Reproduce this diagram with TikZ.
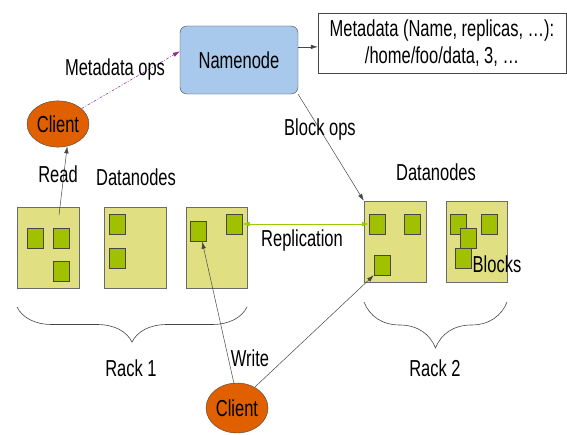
\documentclass[tikz,border=0pt]{standalone}
\usepackage{fontspec}
\setmainfont{Liberation Sans}
\usetikzlibrary{positioning,shapes.geometric,arrows.meta,decorations.pathreplacing}

\definecolor{nnblue}{RGB}{168,200,236}
\definecolor{clorange}{RGB}{224,96,0}
\definecolor{dnfill}{RGB}{224,224,130}
\definecolor{blkgreen}{RGB}{160,192,0}
\definecolor{repgreen}{RGB}{153,204,0}
\definecolor{opspurple}{RGB}{150,40,150}
\definecolor{linegray}{RGB}{70,70,70}

\begin{document}
\begin{tikzpicture}[x=1pt,y=-1pt,
  lbl/.style={font=\fontsize{16.5}{19.3}\selectfont, yscale=1.4, inner sep=1pt},
  namebox/.style={lbl, draw=linegray, fill=nnblue, rounded corners=7, minimum width=118, minimum height=48.6},
  metabox/.style={lbl, draw=linegray, fill=white, align=center, minimum width=248, minimum height=42.9},
  client/.style={lbl, ellipse, draw=linegray, fill=clorange, inner sep=0, minimum width=62},
  dnode/.style={draw=linegray!80, fill=dnfill, minimum width=62, minimum height=81, inner sep=0},
  blk/.style={draw=linegray, fill=blkgreen, minimum width=16, minimum height=20, inner sep=0},
  arr/.style={draw=linegray, line width=0.5pt, -{Latex[length=7pt,width=4.5pt]}},
  rackbrace/.style={draw=linegray, line width=0.6pt, decorate}]
\path[use as bounding box] (0,0) rectangle (567,435);

%Shape: Namenode and metadata table
\draw (239,60) node [namebox] (nn) {Namenode};
\draw (442,43) node [metabox] (meta) {Metadata (Name, replicas, …):\\/home/foo/data, 3, …};

%Shape: Clients
\draw (58,124) node [client, minimum height=33] (cl1) {Client};
\draw (237,408) node [client, minimum height=35.7] (cl2) {Client};

%Shape: Rack 1 datanodes
\draw (48,247.5) node [dnode] (dn1) {};
\draw (135,247.5) node [dnode] (dn2) {};
\draw (216.5,247.5) node [dnode, minimum width=61] (dn3) {};
\draw (35,238) node [blk] (b11) {};
\draw (61,238) node [blk] (b12) {};
\draw (61,271.5) node [blk] (b13) {};
\draw (117,224) node [blk] (b21) {};
\draw (117,258) node [blk] (b22) {};
\draw (198.5,231.5) node [blk] (b31) {};
\draw (234.5,224) node [blk] (b32) {};

%Shape: Rack 2 datanodes
\draw (395,241.5) node [dnode] (dn4) {};
\draw (476.5,241.5) node [dnode, minimum width=61] (dn5) {};
\draw (377,224) node [blk] (b41) {};
\draw (412.5,224) node [blk] (b42) {};
\draw (382,265) node [blk] (b43) {};
\draw (458.5,224) node [blk] (b51) {};
\draw (489,224) node [blk] (b52) {};
\draw (468.5,238) node [blk] (b53) {};
\draw (463.5,258) node [blk] (b54) {};

%Shape: Braces
\draw [rackbrace, decoration={brace, amplitude=35, mirror}] (17,307) -- (247,307);
\draw [rackbrace, decoration={brace, amplitude=46, mirror}] (364,302) -- (507,302);

% Connectors
\coordinate (rd) at (59,215);
\draw [arr] (rd) -- (cl1.-60);
\draw [arr, draw=opspurple, dash pattern=on 3pt off 1.5pt on 1pt off 1.5pt] (cl1.25) -- (nn.174);
\draw [arr] (nn.9) -- (nn.9 -| meta.west);
\draw [arr] (nn.south east) -- (dn4.north west);
\draw [arr, draw=repgreen, line width=0.8pt, {Latex[length=7pt,width=5pt]}-{Latex[length=7pt,width=5pt]}] (b32.east) -- (b41.west);
\draw [arr] (cl2.100) -- (b31.-70);
\draw [arr] (cl2.40) -- (b43.south west);

% Text Node
\draw (115,70) node [lbl] (mdops) {Metadata ops};
% Text Node
\draw (58,174) node [lbl] (rdlbl) {Read};
% Text Node
\draw (136,177) node [lbl] (dnlbl1) {Datanodes};
% Text Node
\draw (320,130) node [lbl] (bolbl) {Block ops};
% Text Node
\draw (436,172) node [lbl] (dnlbl2) {Datanodes};
% Text Node
\draw (302,241) node [lbl] (replbl) {Replication};
% Text Node
\draw (497,264) node [lbl] (blklbl) {Blocks};
% Text Node
\draw (250,358) node [lbl] (wrlbl) {Write};
% Text Node
\draw (131,368) node [lbl] (rk1) {Rack 1};
% Text Node
\draw (435,368) node [lbl] (rk2) {Rack 2};

\end{tikzpicture}
\end{document}
